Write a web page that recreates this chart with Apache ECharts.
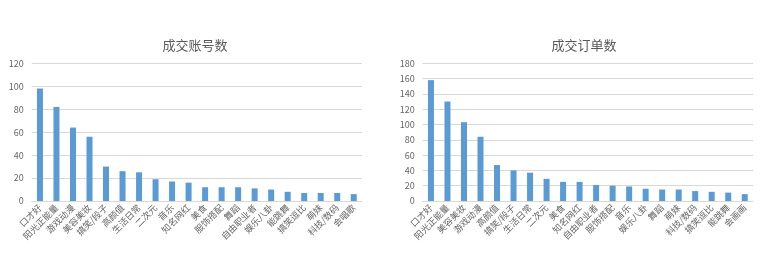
<!DOCTYPE html>
<html><head><meta charset="utf-8">
<script src="https://cdn.jsdelivr.net/npm/echarts@6/dist/echarts.min.js"></script>
<style>html,body{margin:0;padding:0;background:#fff}#c{width:764px;height:266px}</style>
</head><body><div id="c"></div>
<script>
const accountCategories = ["口才好","阳光正能量","游戏动漫","美容美妆","搞笑/段子","高颜值","生活日常","二次元","音乐","知名网红","美食","服饰搭配","舞蹈","自由职业者","娱乐八卦","能跳舞","搞笑逗比","萌妹","科技/数码","会唱歌"];
const accountValues = [98,82,64,56,30,26,25,19,17,16,12,12,12,11,10,8,7,7,7,6];
const orderCategories = ["口才好","阳光正能量","美容美妆","游戏动漫","高颜值","搞笑/段子","生活日常","二次元","美食","知名网红","自由职业者","服饰搭配","音乐","娱乐八卦","舞蹈","萌妹","科技/数码","搞笑逗比","能跳舞","会画画"];
const orderValues = [158,130,103,84,47,40,37,29,25,25,21,20,19,16,15,15,13,12,11,9];
const titles = ["成交账号数","成交订单数"];

const FONT = '"Noto Sans CJK SC", sans-serif';
const chart = echarts.init(document.getElementById('c'), null, {renderer:'canvas'});
const axisLabel = {color:'#666666', fontSize:9, fontFamily:FONT};
function xAxis(i, cats){
  return {type:'category', gridIndex:i, data:cats,
    axisLine:{show:true, lineStyle:{color:'#d9d9d9'}}, axisTick:{show:false},
    axisLabel:Object.assign({rotate:45, interval:0, margin:5}, axisLabel)};
}
function yAxis(i, max){
  return {type:'value', gridIndex:i, min:0, max:max, interval:20,
    axisLine:{show:false}, axisTick:{show:false},
    splitLine:{lineStyle:{color:'#d9d9d9'}},
    axisLabel:Object.assign({margin:8}, axisLabel)};
}
chart.setOption({
  animation:false,
  title:[
    {text:titles[0], left:190, top:34, textAlign:'center', textStyle:{color:'#595959', fontSize:13, fontWeight:'normal', fontFamily:FONT}},
    {text:titles[1], left:579, top:34, textAlign:'center', textStyle:{color:'#595959', fontSize:13, fontWeight:'normal', fontFamily:FONT}}
  ],
  grid:[
    {left:31.7, right:402, top:63.3, bottom:65},
    {left:422.7, right:11, top:63.3, bottom:65}
  ],
  xAxis:[xAxis(0, accountCategories), xAxis(1, orderCategories)],
  yAxis:[yAxis(0,120), yAxis(1,180)],
  series:[
    {type:'bar', xAxisIndex:0, yAxisIndex:0, data:accountValues, barWidth:6, itemStyle:{color:'#5b9bd5'}},
    {type:'bar', xAxisIndex:1, yAxisIndex:1, data:orderValues, barWidth:6, itemStyle:{color:'#5b9bd5'}}
  ]
});
</script></body></html>
